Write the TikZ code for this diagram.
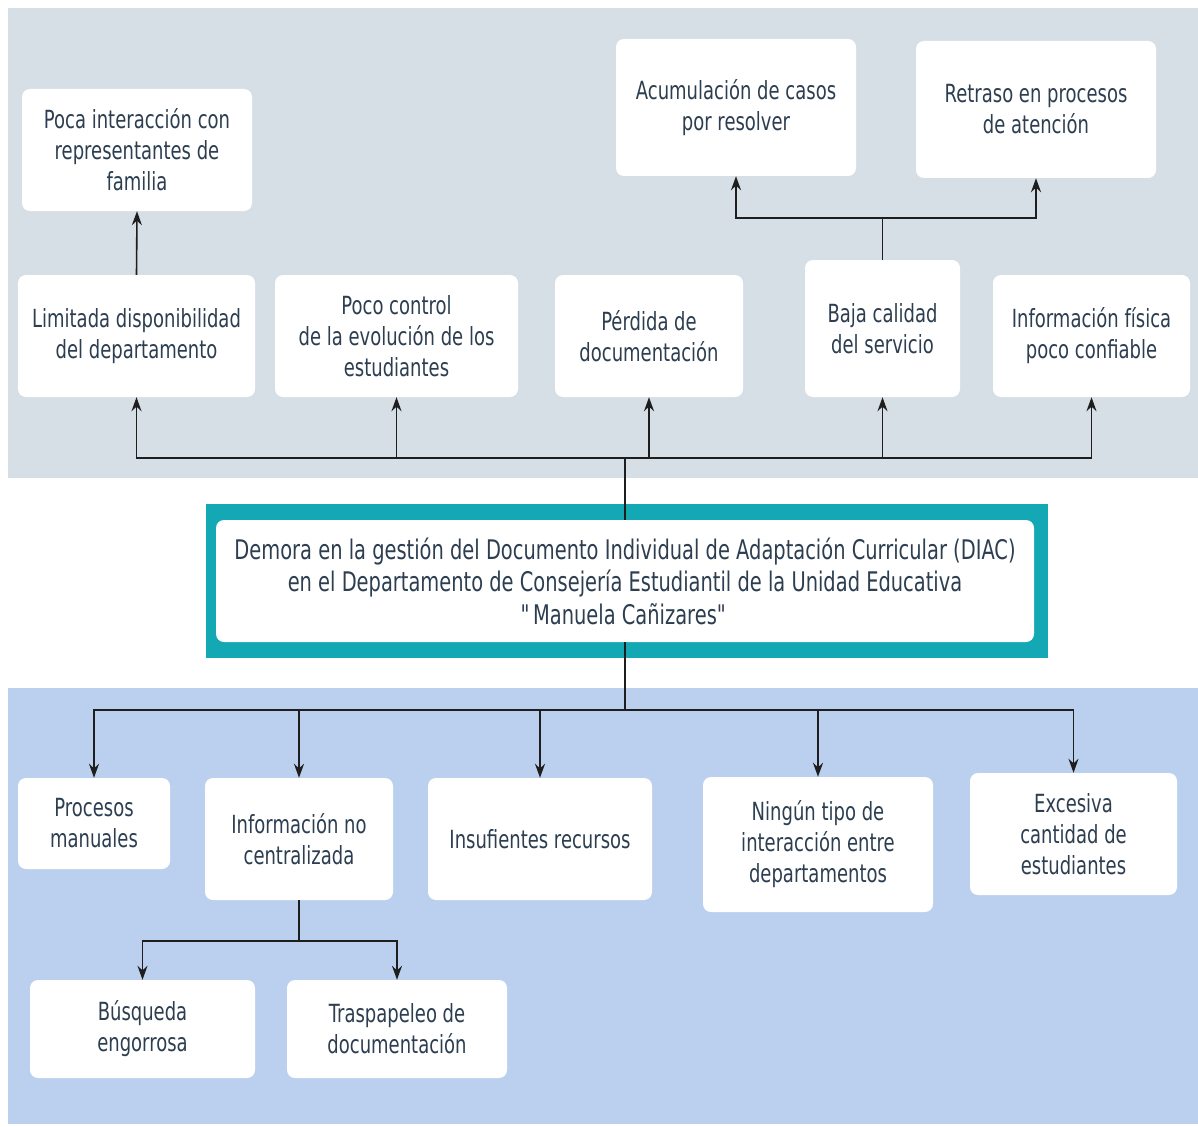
\documentclass[tikz,border=0pt]{standalone}
\usepackage{fontspec}
\setmainfont[FakeStretch=0.72]{DejaVu Sans}
\usepackage{tikz}
\usetikzlibrary{calc,arrows.meta}
\definecolor{topbg}{RGB}{214,222,230}
\definecolor{lowbg}{RGB}{187,208,238}
\definecolor{teal}{RGB}{19,168,180}
\definecolor{ink}{RGB}{44,62,80}
\definecolor{wire}{RGB}{30,30,30}
\tikzset{
  box/.style={fill=white, rounded corners=8pt, align=center, text=ink, inner sep=0pt,
    font=\fontsize{25}{31}\selectfont},
  arr/.style={draw=wire, line width=1.6pt, -{Stealth[length=14pt,width=10pt]}},
}
\begin{document}
\begin{tikzpicture}[x=1pt,y=-1pt]
  \useasboundingbox (0,0) rectangle (1198,1126);
  \fill[white] (0,0) rectangle (1198,1126);
  \fill[topbg] (8,8) rectangle (1198,478);
  \fill[lowbg] (8,688) rectangle (1198,1124);
  % problema central
  \fill[teal] (206,504) rectangle (1048,658);
  \node[box, font=\fontsize{27}{32.5}\selectfont, minimum width=818pt, minimum height=122pt] (cen) at (625,581)
    {Demora en la gestión del Documento Individual de Adaptación Curricular (DIAC)\\
     en el Departamento de Consejería Estudiantil de la Unidad Educativa\\
     \textquotedbl Manuela Cañizares\textquotedbl};
  % efectos
  \node[box, minimum width=237pt, minimum height=122pt] (lim) at (136.5,336) {Limitada disponibilidad\\del departamento};
  \node[box, minimum width=243pt, minimum height=122pt] (ctrl) at (396.5,336) {Poco control\\de la evolución de los\\estudiantes};
  \node[box, minimum width=188pt, minimum height=122pt] (perd) at (649,336) {Pérdida de\\documentación};
  \node[box, minimum width=155pt, minimum height=137pt] (baja) at (882.5,328.5) {Baja calidad\\del servicio};
  \node[box, minimum width=197pt, minimum height=122pt] (info) at (1091.5,336) {Información física\\poco confiable};
  \node[box, minimum width=230pt, minimum height=122pt] (poca) at (137,150) {Poca interacción con\\representantes de\\familia};
  \node[box, minimum width=240pt, minimum height=137pt] (acum) at (736,107.5) {Acumulación de casos\\por resolver};
  \node[box, minimum width=240pt, minimum height=137pt] (retr) at (1036,109.5) {Retraso en procesos\\de atención};
  % causas
  \node[box, minimum width=152pt, minimum height=91pt] (proc) at (94,823.5) {Procesos\\manuales};
  \node[box, minimum width=188pt, minimum height=122pt] (noc) at (299,839) {Información no\\centralizada};
  \node[box, minimum width=224pt, minimum height=122pt] (insu) at (540,839) {Insufientes recursos};
  \node[box, minimum width=230pt, minimum height=135pt] (ning) at (818,844.5) {Ningún tipo de\\interacción entre\\departamentos};
  \node[box, minimum width=207pt, minimum height=122pt] (exce) at (1073.5,834) {Excesiva\\cantidad de\\estudiantes};
  \node[box, minimum width=225pt, minimum height=98pt] (busq) at (142.5,1029) {Búsqueda\\engorrosa};
  \node[box, minimum width=220pt, minimum height=98pt] (trasp) at (397,1029) {Traspapeleo de\\documentación};
  % conectores
  \coordinate (bus) at (0,458);
  \coordinate (fork) at (0,218);
  \coordinate (bus2) at (0,710);
  \coordinate (fork2) at (0,941);
  \foreach \n in {lim,ctrl,perd,baja,info}
    \draw[arr] (cen.north) |- (\n.south |- bus) -- (\n.south);
  \draw[arr] (lim.north) -- (poca.south);
  \foreach \n in {acum,retr}
    \draw[arr] (baja.north) |- (\n.south |- fork) -- (\n.south);
  \foreach \n in {proc,noc,insu,ning,exce}
    \draw[arr] (cen.south) |- (\n.north |- bus2) -- (\n.north);
  \foreach \n in {busq,trasp}
    \draw[arr] (noc.south) |- (\n.north |- fork2) -- (\n.north);
\end{tikzpicture}
\end{document}
